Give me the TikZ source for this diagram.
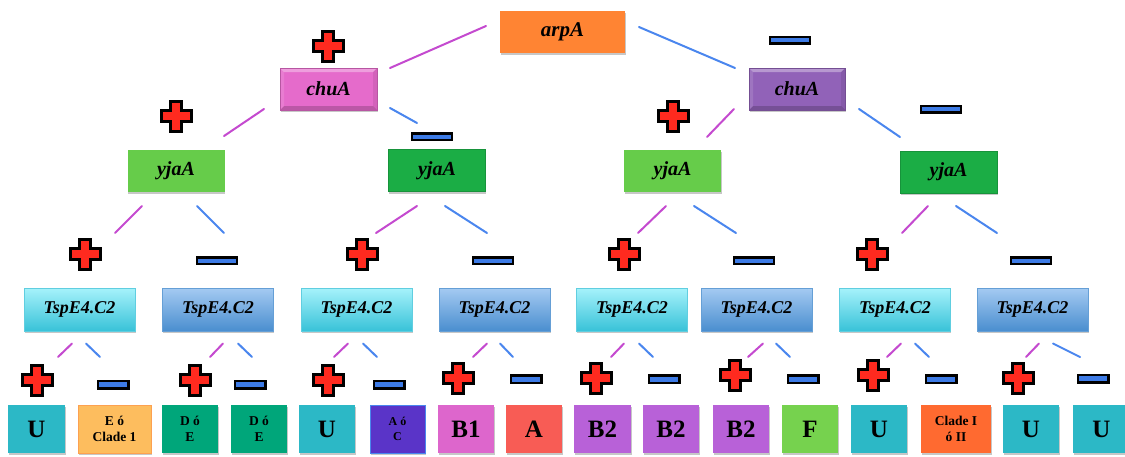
\documentclass[tikz,border=0pt]{standalone}
\usepackage{fontspec}
\setmainfont{Liberation Serif}
\usetikzlibrary{shadows}

\definecolor{arpcol}{HTML}{FF8433}
\definecolor{chuposcol}{HTML}{E56BCB}
\definecolor{chunegcol}{HTML}{9162B8}
\definecolor{yjaposcol}{HTML}{66CC4A}
\definecolor{yjanegcol}{HTML}{1BAD45}
\definecolor{tspctop}{HTML}{A6F2FB}
\definecolor{tspcbot}{HTML}{38C2D8}
\definecolor{tspbtop}{HTML}{A4CAF2}
\definecolor{tspbbot}{HTML}{4A8ECF}
\definecolor{linkpos}{HTML}{C44ACF}
\definecolor{linkneg}{HTML}{4A86EE}
\definecolor{plusred}{HTML}{FF2A1F}
\definecolor{minusblue}{HTML}{3D7BE6}
\definecolor{leafU}{HTML}{2CB8C6}
\definecolor{leafE}{HTML}{FDBD5E}
\definecolor{leafD}{HTML}{00A67A}
\definecolor{leafAC}{HTML}{5A34C8}
\definecolor{leafBone}{HTML}{DD66CC}
\definecolor{leafA}{HTML}{F85C55}
\definecolor{leafBtwo}{HTML}{B861D8}
\definecolor{leafF}{HTML}{76D24E}
\definecolor{leafclade}{HTML}{FF6A30}

\tikzset{
  boxshadow/.style={drop shadow={shadow xshift=0.8pt, shadow yshift=-2pt, fill=black, opacity=0.22}},
  gene/.style={rectangle, inner sep=0pt, boxshadow,
    font=\fontsize{20pt}{20pt}\selectfont\bfseries\itshape},
  bevel/.style={path picture={
    \fill[white, opacity=0.35] (path picture bounding box.north west) -- (path picture bounding box.north east)
      -- ([xshift=-4pt,yshift=-4pt]path picture bounding box.north east) -- ([xshift=4pt,yshift=-4pt]path picture bounding box.north west) -- cycle;
    \fill[black, opacity=0.18] (path picture bounding box.south west) -- (path picture bounding box.south east)
      -- ([xshift=-4pt,yshift=4pt]path picture bounding box.south east) -- ([xshift=4pt,yshift=4pt]path picture bounding box.south west) -- cycle;
    \fill[black, opacity=0.08] (path picture bounding box.north east) -- (path picture bounding box.south east)
      -- ([xshift=-4pt,yshift=4pt]path picture bounding box.south east) -- ([xshift=-4pt,yshift=-4pt]path picture bounding box.north east) -- cycle;
    \fill[white, opacity=0.12] (path picture bounding box.north west) -- (path picture bounding box.south west)
      -- ([xshift=4pt,yshift=4pt]path picture bounding box.south west) -- ([xshift=4pt,yshift=-4pt]path picture bounding box.north west) -- cycle;
  }},
  arpbox/.style={gene, fill=arpcol, minimum width=125pt, minimum height=42pt, font=\fontsize{21pt}{21pt}\selectfont\bfseries\itshape},
  chupos/.style={gene, fill=chuposcol, draw=chuposcol!80!black, line width=0.4pt, bevel, minimum width=97pt, minimum height=42pt},
  chuneg/.style={gene, fill=chunegcol, draw=chunegcol!80!black, line width=0.4pt, bevel, minimum width=96pt, minimum height=42pt},
  yjapos/.style={gene, fill=yjaposcol, minimum width=97pt, minimum height=42pt},
  yjaneg/.style={gene, fill=yjanegcol, draw=yjanegcol!85!black, line width=0.4pt, minimum width=97pt, minimum height=42pt},
  tspbox/.style={gene, minimum width=111pt, minimum height=43pt, line width=0.6pt,
    font=\fontsize{18pt}{18pt}\selectfont\bfseries\itshape},
  tsppos/.style={tspbox, top color=tspctop, bottom color=tspcbot, draw=tspcbot!80!white},
  tspneg/.style={tspbox, top color=tspbtop, bottom color=tspbbot, draw=tspbbot!85!white},
  leaf/.style={rectangle, inner sep=0pt, minimum width=57pt, minimum height=48pt, boxshadow,
    line width=0.6pt, font=\fontsize{25pt}{25pt}\selectfont\bfseries},
  leafsmall/.style={leaf, align=center, font=\fontsize{13.5pt}{16pt}\selectfont\bfseries},
  linkp/.style={draw=linkpos, line width=2pt, line cap=round},
  linkn/.style={draw=linkneg, line width=2pt, line cap=round},
  pics/possign/.style={code={
    \draw[line width=3pt, fill=plusred, line join=miter]
      (-5.5,-15) -- (5.5,-15) -- (5.5,-5.5) -- (15,-5.5) -- (15,5.5) -- (5.5,5.5)
      -- (5.5,15) -- (-5.5,15) -- (-5.5,5.5) -- (-15,5.5) -- (-15,-5.5) -- (-5.5,-5.5) -- cycle;}},
  pics/negbig/.style={code={
    \draw[line width=2.5pt, fill=minusblue] (-20,-3.25) rectangle (20,3.25);}},
  pics/negsmall/.style={code={
    \draw[line width=2.5pt, fill=minusblue] (-15.25,-3.75) rectangle (15.25,3.75);}}
}

\begin{document}
\begin{tikzpicture}[x=1pt, y=-1pt]
\useasboundingbox (0,0) rectangle (1125,456);

% ---------- gene boxes ----------
\node[arpbox] (arp) at (562.5,32) {arpA};
\node[chupos] (chuL) at (328.5,89) {chuA};
\node[chuneg] (chuR) at (797,89) {chuA};

\node[yjapos] (yjaLL) at (176,170.5) {yjaA};
\node[yjaneg] (yjaLR) at (437,170.5) {yjaA};
\node[yjapos] (yjaRL) at (672.5,170.5) {yjaA};
\node[yjaneg] (yjaRR) at (948.5,172) {yjaA};

\node[tsppos] (tspA) at (79.5,309.5) {TspE4.C2};
\node[tspneg] (tspB) at (218,309.5) {TspE4.C2};
\node[tsppos] (tspC) at (356.5,309.5) {TspE4.C2};
\node[tspneg] (tspD) at (494.5,309.5) {TspE4.C2};
\node[tsppos] (tspE) at (632,309.5) {TspE4.C2};
\node[tspneg] (tspF) at (756.5,309.5) {TspE4.C2};
\node[tsppos] (tspG) at (895,309.5) {TspE4.C2};
\node[tspneg] (tspH) at (1032.5,309.5) {TspE4.C2};

% ---------- phylogroup boxes ----------
\node[leaf, fill=leafU] (gA) at (36.5,429) {U};
\node[leafsmall, fill=leafE, draw=leafE!85!red, minimum width=73pt] (gB) at (114.5,429) {E ó\\Clade 1};
\node[leafsmall, fill=leafD, minimum width=56pt] (gC) at (190,429) {D ó\\E};
\node[leafsmall, fill=leafD, minimum width=56pt] (gD) at (259,429) {D ó\\E};
\node[leaf, fill=leafU, minimum width=56pt] (gE) at (327,429) {U};
\node[leafsmall, fill=leafAC, draw=linkneg, minimum width=55pt, font=\fontsize{12pt}{15pt}\selectfont\bfseries] (gF) at (397.5,429) {A ó\\C};
\node[leaf, fill=leafBone, minimum width=56pt] (gG) at (466,429) {B1};
\node[leaf, fill=leafA, minimum width=56pt] (gH) at (534,429) {A};
\node[leaf, fill=leafBtwo] (gI) at (602.5,429) {B2};
\node[leaf, fill=leafBtwo, minimum width=56pt] (gJ) at (671,429) {B2};
\node[leaf, fill=leafBtwo, minimum width=56pt] (gK) at (741,429) {B2};
\node[leaf, fill=leafF, minimum width=56pt] (gL) at (810,429) {F};
\node[leaf, fill=leafU, minimum width=56pt] (gM) at (879,429) {U};
\node[leafsmall, fill=leafclade, minimum width=70pt] (gN) at (956,429) {Clade I\\ó II};
\node[leaf, fill=leafU, minimum width=56pt] (gO) at (1031,429) {U};
\node[leaf, fill=leafU, minimum width=57pt] (gP) at (1101.5,429) {U};

% ---------- connector end points ----------
\coordinate (arpP) at (486,26);   \coordinate (chuLP) at (390,68);
\coordinate (arpN) at (639,27);   \coordinate (chuRN) at (735,68);

\coordinate (cLP) at (264,109);   \coordinate (yLLa) at (224,136);
\coordinate (cLN) at (390,108);   \coordinate (yLRa) at (417,123);
\coordinate (cRP) at (734,109);   \coordinate (yRLa) at (707,137);
\coordinate (cRN) at (859,109);   \coordinate (yRRa) at (900,137);

\draw[linkp] (arpP) -- (chuLP);
\draw[linkn] (arpN) -- (chuRN);
\draw[linkp] (cLP) -- (yLLa);
\draw[linkn] (cLN) -- (yLRa);
\draw[linkp] (cRP) -- (yRLa);
\draw[linkn] (cRN) -- (yRRa);

% yjaA -> TspE4.C2
\foreach \px/\pxe/\nx/\nxe in {142/115/197/224, 417/376/445/487, 666/638/694/736, 928/902/956/997}{
  \draw[linkp] (\px,206) -- (\pxe,233);
  \draw[linkn] (\nx,206) -- (\nxe,233);
}

% TspE4.C2 -> phylogroups
\foreach \px/\pxe/\nx/\nxe in {72/58/86/100, 223/210/238/252, 348/334/363/377, 487/473/500/513,
                               624/611/639/653, 763/748/776/790, 901/887/915/929, 1039/1026/1053/1080}{
  \draw[linkp] (\px,343.5) -- (\pxe,357);
  \draw[linkn] (\nx,343.5) -- (\nxe,357);
}

% ---------- result signs ----------
\foreach \sx/\sy in {328/46, 176/116, 673/116, 85/254, 362/254, 624/254, 872/254,
                     37/380, 195/380, 328/380, 458/378, 596/378, 735/375, 873/375, 1018/378}
  \pic at (\sx,\sy) {possign};

\foreach \sx/\sy in {432/136.5, 790/40, 941/109, 217/260.5, 493/260.5, 754/260.5, 1031/260.5}
  \pic at (\sx,\sy) {negbig};

\foreach \sx/\sy in {113/384.5, 250/384.5, 389/384.5, 526/379, 664/379, 803/379, 941/379, 1093/378.5}
  \pic at (\sx,\sy) {negsmall};

\end{tikzpicture}
\end{document}
